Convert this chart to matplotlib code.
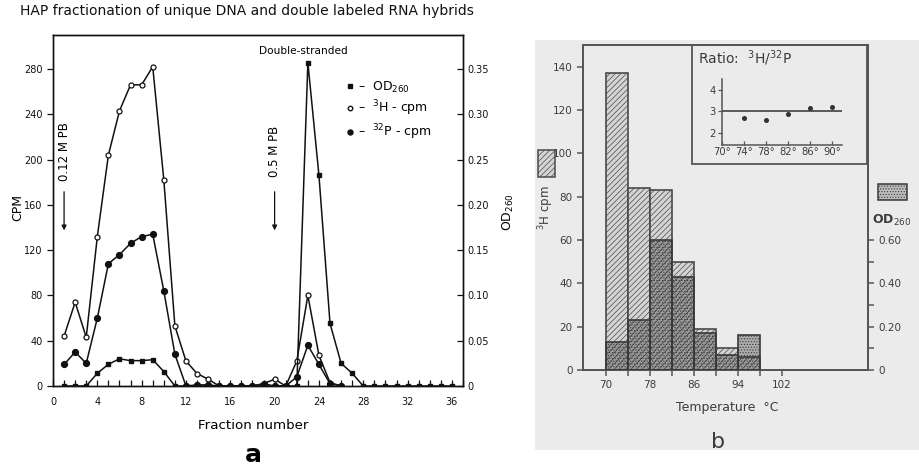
import matplotlib.pyplot as plt
import matplotlib.patches as mpatches
from matplotlib.ticker import MultipleLocator, FixedLocator
import numpy as np

# ─────────────────────────────────────────────
#  DATA
# ─────────────────────────────────────────────

# panel a: HAP column fractions
fractions_h = np.arange(1, 27)
h3_cpm = [44, 74, 43, 132, 204, 243, 266, 266, 282, 182, 53, 22, 11, 6, 0,
          0, 0, 0, 2, 6, 0, 22, 80, 27, 3, 0]
p32_cpm = [19, 30, 20, 60, 108, 116, 126, 132, 134, 84, 28, 0, 1, 1, 0,
           0, 0, 0, 2, 0, 0, 8, 36, 19, 2, 0]
fractions_od = np.arange(1, 37)
od260 = [0, 0, 0, 0.014, 0.024, 0.030, 0.028, 0.028, 0.029, 0.016, 0, 0,
         0, 0, 0, 0, 0, 0, 0, 0, 0, 0, 0.357, 0.2325, 0.069, 0.025, 0.014,
         0, 0, 0, 0, 0, 0, 0, 0, 0]

# panel b: thermal elution histogram (4 degree steps)
temp_edges = [70, 74, 78, 82, 86, 90, 94]
h3_hist = [137, 84, 83, 50, 19, 10, 6]
od_hist = [0.13, 0.23, 0.60, 0.43, 0.17, 0.07, 0.16]

# panel b inset: 3H / 32P ratio
ratio_temp = [74, 78, 82, 86, 90]
ratio_val = [2.72, 2.6, 2.9, 3.14, 3.19]
ratio_mean = 3.0
ratio_ticks = [70, 74, 78, 82, 86, 90]

# ─────────────────────────────────────────────
#  STYLING
# ─────────────────────────────────────────────

plt.rcParams.update({
    "font.family": "DejaVu Sans",
    "xtick.labelsize": 7,
    "ytick.labelsize": 7,
    "hatch.linewidth": 0.5,
})

INK = "#111111"
GREY_INK = "#3c3c3c"
PANEL_BG = "#ebebeb"

fig = plt.figure(figsize=(9.2, 4.69), dpi=100)
W, H = 920, 469


def px_box(x0, x1, y_top, y_bot):
    """pixel box of the reference -> figure fraction [l, b, w, h]"""
    return [x0 / W, (H - y_bot) / H, (x1 - x0) / W, (y_bot - y_top) / H]


# grey scanned background of panel b (behind everything)
fig.patches.append(mpatches.Rectangle((535 / W, (H - 450) / H), 385 / W, 410 / H,
                                      transform=fig.transFigure,
                                      facecolor=PANEL_BG, edgecolor="none", zorder=-5))

# ─────────────────────────────────────────────
#  PANEL a — HAP fractionation profile
# ─────────────────────────────────────────────
ax = fig.add_axes(px_box(53, 463, 35, 386))
ax2 = ax.twinx()

ax.plot(fractions_h, h3_cpm, color=INK, lw=1.1, marker="o", ms=3.6,
        mfc="white", mec=INK, mew=0.9, zorder=3)
ax.plot(fractions_h, p32_cpm, color=INK, lw=1.1, marker="o", ms=4.2,
        mfc=INK, mec=INK, zorder=3)
ax2.plot(fractions_od, od260, color=INK, lw=1.1, marker="s", ms=2.8,
         mfc=INK, mec=INK, zorder=3)

ax.set_xlim(0, 37)
ax.set_ylim(0, 310)
ax2.set_ylim(0, 310 / 800)

ax.xaxis.set_major_locator(MultipleLocator(4))
ax.xaxis.set_minor_locator(MultipleLocator(1))
ax.set_yticks(np.arange(0, 281, 40))
ax.tick_params(axis="x", which="both", direction="in", length=4, width=0.9,
               colors=INK, pad=8)
ax.tick_params(axis="y", direction="out", length=4, width=0.9, colors=INK)
ax2.set_yticks(np.arange(0, 0.351, 0.05))
ax2.set_yticklabels(["0"] + [f"{v:.2f}" for v in np.arange(0.05, 0.351, 0.05)])
ax2.tick_params(axis="y", direction="in", length=4, width=0.9, colors=INK)
for a in (ax, ax2):
    for s in a.spines.values():
        s.set_linewidth(1.0)
        s.set_color(INK)

fig.text(20 / W, (H - 11) / H, "HAP fractionation of unique DNA and double labeled RNA hybrids",
         fontsize=10, color=INK, va="center", ha="left")
fig.text(18 / W, (H - 207) / H, "CPM", rotation=90, fontsize=9, ha="center", va="center")
fig.text(508 / W, (H - 212) / H, "OD$_{260}$", rotation=90, fontsize=9, ha="center", va="center")
fig.text(253 / W, (H - 425) / H, "Fraction number", fontsize=9.6, ha="center", va="center")
fig.text(253 / W, (H - 455) / H, "a", fontsize=18, fontweight="bold", ha="center", va="center")

# buffer steps
for xs, label in [(1, "0.12 M PB"), (20, "0.5 M PB")]:
    ax.text(xs, 207, label, rotation=90, fontsize=8.5, ha="center", va="center")
    ax.annotate("", xy=(xs, 135), xytext=(xs, 174),
                arrowprops=dict(arrowstyle="-|>", color=INK, lw=0.9,
                                mutation_scale=7))
ax.text(22.6, 296, "Double-stranded", fontsize=7.6, ha="center", va="center")

# legend
handles = [
    plt.Line2D([], [], ls="none", marker="s", ms=2.8, color=INK),
    plt.Line2D([], [], ls="none", marker="o", ms=3.2, mfc="white", mec=INK),
    plt.Line2D([], [], ls="none", marker="o", ms=3.6, color=INK),
]
labels = ["–  OD$_{260}$", "–  $^3$H - cpm", "–  $^{32}$P - cpm"]
ax.legend(handles, labels, loc="upper left", bbox_to_anchor=(0.70, 0.89),
          frameon=False, fontsize=9, handlelength=0.6, handletextpad=0.3,
          labelspacing=0.3, borderpad=0)

# ─────────────────────────────────────────────
#  PANEL b — thermal elution histogram
# ─────────────────────────────────────────────
bx = fig.add_axes(px_box(583, 868, 45, 370))
bx.set_facecolor("none")
bx2 = bx.twinx()

bx.bar(temp_edges, h3_hist, width=4, align="edge", facecolor="#d4d4d4",
       edgecolor="#4a4a4a", linewidth=1.2, hatch="//////", zorder=2)
bx2.bar(temp_edges, od_hist, width=4, align="edge", facecolor=(0.1, 0.1, 0.1, 0.3),
        edgecolor="#3a3a3a", linewidth=1.2, hatch="......", zorder=3)

bx.set_xlim(65.8, 117.7)
bx.set_ylim(0, 150)
bx2.set_ylim(0, 1.5)

bx.set_xticks([70, 78, 86, 94, 102])
bx.xaxis.set_minor_locator(FixedLocator([74, 82, 90, 98]))
bx.set_yticks(np.arange(0, 141, 20))
bx2.set_yticks([0, 0.2, 0.4, 0.6])
bx2.set_yticklabels(["0", "0.20", "0.40", "0.60"])
bx2.yaxis.set_minor_locator(FixedLocator([0.1, 0.3, 0.5]))
bx.tick_params(axis="both", which="both", direction="out", length=4, width=1.1,
               colors="#555555", labelcolor=GREY_INK, labelsize=7.5)
bx2.tick_params(axis="y", which="both", direction="out", length=4, width=1.1,
                colors="#555555", labelcolor=GREY_INK, labelsize=7.5)
for a in (bx, bx2):
    for s in a.spines.values():
        s.set_linewidth(1.3)
        s.set_color("#555555")

fig.text(727 / W, (H - 407) / H, "Temperature  °C", fontsize=9, color=GREY_INK,
         ha="center", va="center")
fig.text(718 / W, (H - 442) / H, "b", fontsize=16, color=GREY_INK, ha="center", va="center")

# side keys
fig.patches.append(mpatches.Rectangle((538 / W, (H - 177) / H), 17 / W, 27 / H,
                                      transform=fig.transFigure, facecolor="#d4d4d4",
                                      edgecolor="#4a4a4a", lw=1.1, hatch="//////", zorder=2))
fig.text(546 / W, (H - 208) / H, "$^3$H cpm", rotation=90, fontsize=8.5,
         color=GREY_INK, ha="center", va="center")
fig.patches.append(mpatches.Rectangle((878 / W, (H - 200) / H), 29 / W, 16 / H,
                                      transform=fig.transFigure, facecolor="#bdbdbd",
                                      edgecolor="#3a3a3a", lw=1.1, hatch="......", zorder=2))
fig.text(892 / W, (H - 220) / H, "OD$_{260}$", fontsize=9, fontweight="bold",
         color=GREY_INK, ha="center", va="center")

# inset frame + ratio plot
fig.patches.append(mpatches.Rectangle((692 / W, (H - 164) / H), 175 / W, 119 / H,
                                      transform=fig.transFigure, facecolor="none",
                                      edgecolor="#555555", lw=1.3, zorder=4))
ix = fig.add_axes(px_box(721.7, 841.7, 79, 145))
ix.set_facecolor("none")
ix.plot(ratio_temp, ratio_val, ls="none", marker="o", ms=2.6, color="#333333")
ix.axhline(ratio_mean, color="#333333", lw=1.1)
ix.set_xlim(70, 91.7)
ix.set_ylim(1.45, 4.5)
ix.set_yticks([2, 3, 4])
ix.set_xticks(ratio_ticks)
ix.set_xticklabels([f"{t}°" for t in ratio_ticks])
ix.tick_params(axis="both", length=3, width=0.9, colors="#555555",
               labelcolor=GREY_INK, labelsize=7.2, pad=1.5)
ix.tick_params(axis="x", direction="in")
for side in ("top", "right"):
    ix.spines[side].set_visible(False)
for side in ("left", "bottom"):
    ix.spines[side].set_linewidth(1.1)
    ix.spines[side].set_color("#555555")
fig.text(698 / W, (H - 58) / H, "Ratio:  $^3$H/$^{32}$P", fontsize=10,
         color=GREY_INK, ha="left", va="center")

plt.savefig("out.png", dpi=100, facecolor="white")
print("saved out.png")
